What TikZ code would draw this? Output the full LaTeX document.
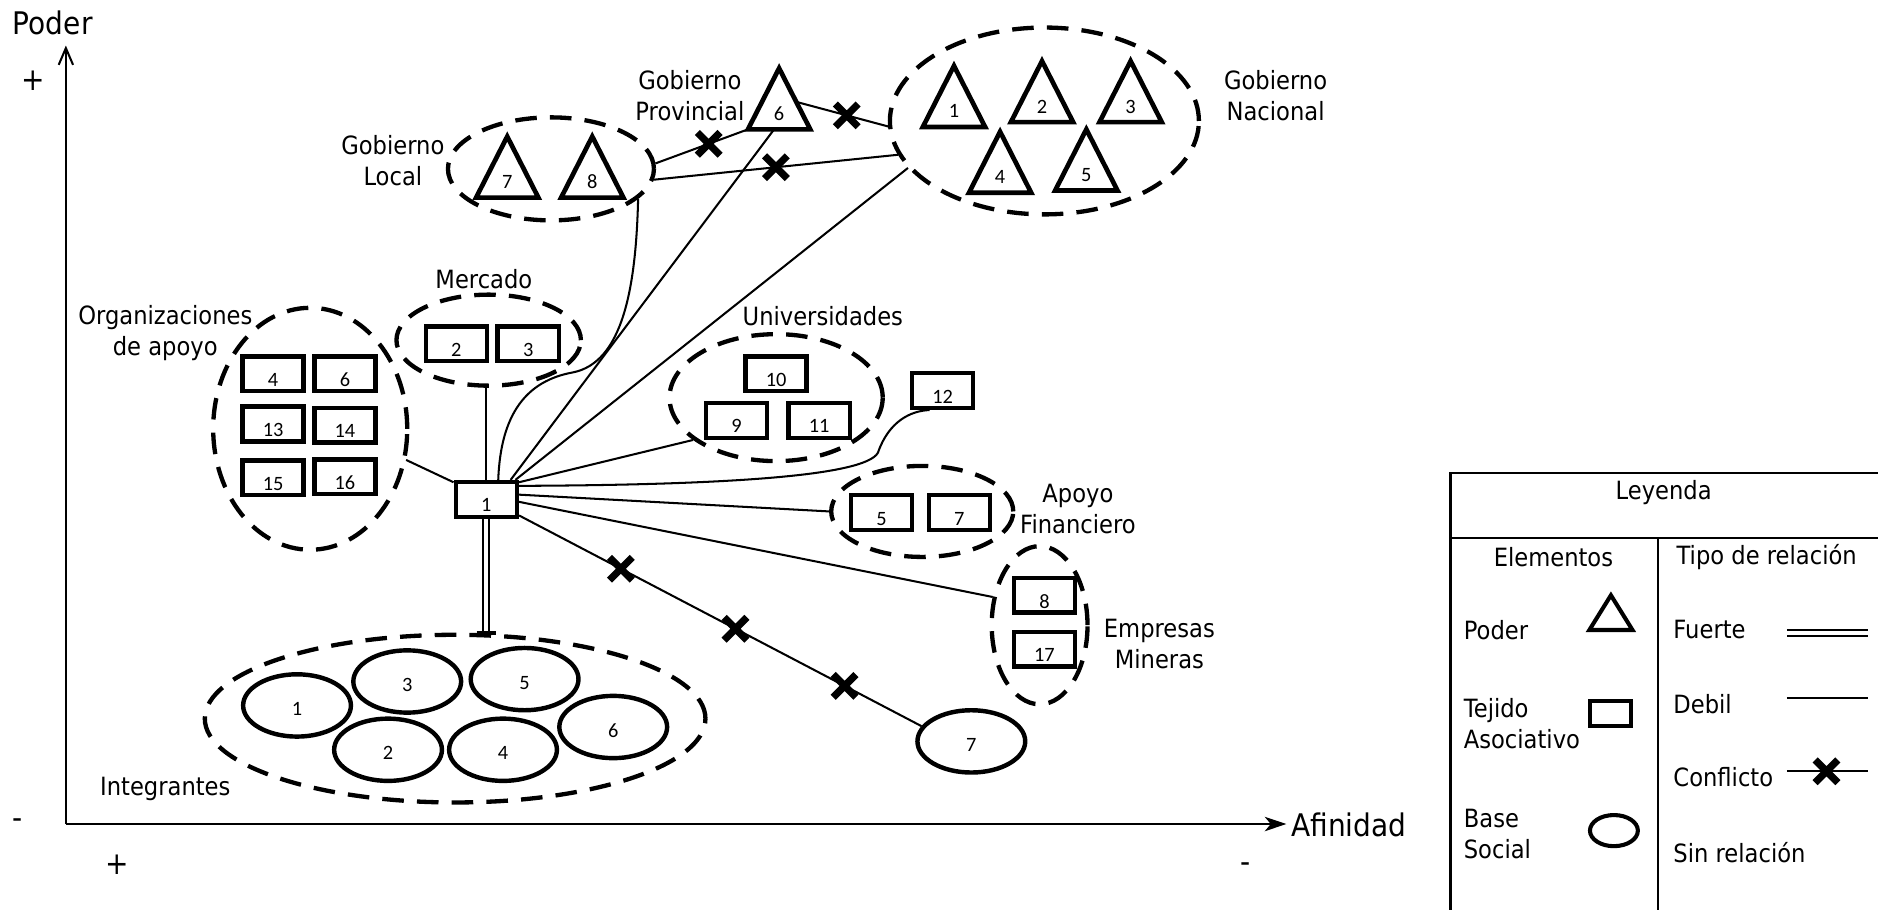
\documentclass[tikz,border=0pt]{standalone}
\usepackage{fontspec}
\setmainfont{DejaVu Sans}[FakeStretch=0.9]
\newfontfamily\numfont{Carlito}
\usetikzlibrary{calc,shapes.geometric,shapes.misc,arrows.meta}

\tikzset{
  lbl/.style={font=\fontsize{21}{26}\selectfont, align=center, inner sep=0pt},
  axlbl/.style={font=\fontsize{26}{30}\selectfont, inner sep=0pt},
  numtxt/.style={font=\numfont\fontsize{17}{20}\selectfont, inner sep=0pt},
  tbox/.style={draw, line width=3.7pt, minimum width=51pt, minimum height=29pt, inner sep=0pt},
  basesh/.style={draw, ellipse, line width=3.7pt, minimum width=90pt, minimum height=52pt, inner sep=0pt},
  grp/.style={draw, ellipse, line width=3.6pt, dash pattern=on 18pt off 11pt, inner sep=0pt},
  tri/.style={draw, line width=3.9pt},
  weak/.style={line width=1.7pt},
  strong/.style={double, double distance=3.5pt, line width=1.5pt},
  tbar/.style={line width=3.5pt},
  axis/.style={line width=1.7pt},
  legline/.style={line width=1.8pt},
  xmark/.style={draw, cross out, line width=6pt, minimum size=13pt, inner sep=0pt}
}

\newcommand{\powtri}[4]{%
  \coordinate (#1) at (#2,#3);
  \coordinate (#1A) at ($(#1)+(0,-51)$);
  \coordinate (#1L) at ($(#1)+(-26,0)$);
  \coordinate (#1R) at ($(#1)+(26,0)$);
  \draw[tri] (#1A) -- (#1L) -- (#1R) -- cycle;
  \node[numtxt] (#1n) at ($(#1)+(0,-13)$) {#4};}
\newcommand{\tejido}[4]{%
  \node[tbox] (#1) at (#2,#3) {};
  \node[numtxt] (#1n) at ($(#1.center)+(0,5)$) {#4};}
\newcommand{\basesoc}[4]{%
  \node[basesh] (#1) at (#2,#3) {};
  \node[numtxt] (#1n) at ($(#1.center)+(0,3)$) {#4};}

\begin{document}
\begin{tikzpicture}[x=1pt,y=-1pt]
\useasboundingbox (0,0) rectangle (1568,759);

% axes
\coordinate (O) at (55,688);
\coordinate (Ytop) at (55,38);
\coordinate (Xend) at (1074,688);
\draw[axis, -{Straight Barb[length=14pt,width=12pt]}] (O) -- (Ytop);
\draw[axis, -{Stealth[length=18pt,width=12pt,inset=5pt]}] (O) -- (Xend);
\node[axlbl] (poder) at (44,19) {Poder};
\node[axlbl] (pplus) at (28,67) {+};
\node[axlbl] (pminus) at (15,688) {-};
\node[axlbl] (aplus) at (98,722) {+};
\node[axlbl] (aminus) at (1040,724) {-};
\node[axlbl, anchor=west] (afin) at (1078,689) {Afinidad};

% groups
\node[grp, minimum width=172pt, minimum height=86pt] (gLoc) at (460,141) {};
\node[grp, minimum width=258pt, minimum height=156pt] (gNac) at (872,101) {};
\node[grp, minimum width=162pt, minimum height=202pt] (gOrg) at (259,358) {};
\node[grp, minimum width=154pt, minimum height=76pt] (gMer) at (408,284) {};
\node[grp, minimum width=178pt, minimum height=106pt] (gUni) at (648,332) {};
\node[grp, minimum width=152pt, minimum height=76pt] (gApo) at (770,427) {};
\node[grp, minimum width=80pt, minimum height=132pt] (gEmp) at (868,522) {};
\node[grp, minimum width=418pt, minimum height=140pt] (gInt) at (380,600) {};

% power triangles
\powtri{t7}{423.5}{165}{7}
\powtri{t8}{494.5}{165}{8}
\powtri{t6}{650.5}{108}{6}
\powtri{n1}{796.5}{106}{1}
\powtri{n2}{870}{102}{2}
\powtri{n3}{944}{102}{3}
\powtri{n4}{835}{161}{4}
\powtri{n5}{907}{159}{5}

% tejido asociativo
\tejido{b1}{406}{417}{1}
\tejido{o4}{228}{312}{4}
\tejido{o6}{288}{312}{6}
\tejido{o13}{228}{354}{13}
\tejido{o14}{288}{355}{14}
\tejido{o15}{228}{399}{15}
\tejido{o16}{288}{398}{16}
\tejido{m2}{381}{287}{2}
\tejido{m3}{441}{287}{3}
\tejido{u10}{648}{312}{10}
\tejido{u9}{615}{351}{9}
\tejido{u11}{684}{351}{11}
\tejido{b12}{787}{326}{12}
\tejido{f5}{736}{428}{5}
\tejido{f7}{801}{428}{7}
\tejido{e8}{872}{497}{8}
\tejido{e17}{872}{542}{17}

% base social
\basesoc{s1}{248}{589}{1}
\basesoc{s3}{340}{569}{3}
\basesoc{s5}{438}{567}{5}
\basesoc{s2}{324}{626}{2}
\basesoc{s4}{420}{626}{4}
\basesoc{s6}{512}{607}{6}
\basesoc{s7}{811}{619}{7}

% group labels
\node[lbl] (lLoc) at (328,134) {Gobierno\\Local};
\node[lbl] (lProv) at (576,80) {Gobierno\\Provincial};
\node[lbl] (lNac) at (1065,80) {Gobierno\\Nacional};
\node[lbl] (lMer) at (404,233) {Mercado};
\node[lbl] (lOrg) at (138,278) {Organizaciones\\de apoyo};
\node[lbl] (lUni) at (687,264) {Universidades};
\node[lbl] (lApo) at (900,425) {Apoyo\\Financiero};
\node[lbl] (lEmp) at (968,538) {Empresas\\Mineras};
\node[lbl] (lInt) at (138,659) {Integrantes};

% connectors among governments
\draw[weak] (gLoc.3) -- node[xmark,pos=0.575]{} (t6L);
\draw[weak] (gLoc.-6) -- node[xmark,pos=0.5]{} (gNac.193);
\draw[weak] ($(t6A)!0.55!(t6R)$) -- node[xmark,pos=0.55]{} (gNac.182);

% connectors from 1
\draw[weak] ($(b1.north)+(10,0)$) .. controls (418,345) and (440,318) .. (478,311)
            .. controls (520,303) and (531,240) .. (gLoc.-19);
\draw[weak] ($(b1.north east)+(-7,0)$) -- ($(t6L)!0.42!(t6R)$);
\draw[weak] ($(b1.north east)+(-3,0)$) -- (gNac.199);
\draw[weak] (b1.north) -- (b1.north |- gMer.south);
\draw[weak] ($(b1.north east)+(0,2)$) -- (gUni.207);
\draw[weak] ($(b1.north east)+(0,5)$) .. controls (600,405) and (722,398) .. (733,378)
            .. controls (742,352) and (760,343) .. ($(b12.south west)!0.3!(b12.south east)$);
\draw[weak] ($(b1.east)+(0,-4)$) -- (gApo.west);
\draw[weak] ($(b1.east)+(0,2)$) -- (gEmp.149);
\draw[weak] ($(b1.south east)+(0,-3)$) -- node[xmark,pos=0.253]{} node[xmark,pos=0.538]{}
            node[xmark,pos=0.809]{} (s7.163);
\draw[weak] ($(b1.north west)+(0,2)$) -- (gOrg.-18);
\coordinate (intT) at (b1.south |- gInt.north);
\draw[strong] (b1.south) -- (intT);
\draw[tbar] ($(intT)+(-8,0)$) -- ($(intT)+(8,0)$);

% legend
\draw[legline] (1211,762) -- (1211,395) -- (1572,395);
\draw[legline] (1211,449) -- (1572,449);
\draw[legline] (1384,449) -- (1384,762);
\node[lbl] (legT) at (1389,411) {Leyenda};
\node[lbl] (legE) at (1297,465) {Elementos};
\node[lbl] (legR) at (1475,465) {Tipo de relación};
\node[lbl, anchor=west] (lp) at (1222,526) {Poder};
\node[lbl, anchor=west, align=left] (lt) at (1222,604) {Tejido\\Asociativo};
\node[lbl, anchor=west, align=left] (lb) at (1222,696) {Base\\Social};
\node[lbl, anchor=west] (lf) at (1397,526) {Fuerte};
\node[lbl, anchor=west] (ld) at (1397,588) {Debil};
\node[lbl, anchor=west] (lc) at (1397,649) {Conflicto};
\node[lbl, anchor=west] (ls) at (1397,712) {Sin relación};
\coordinate (lgT) at (1345,526);
\draw[tri, line width=3.4pt] ($(lgT)+(0,-29)$) -- ($(lgT)+(-18,0)$) -- ($(lgT)+(18,0)$) -- cycle;
\node[tbox, line width=3.4pt, minimum width=34pt, minimum height=21pt] (lgR) at (1344.5,596) {};
\node[basesh, line width=3.4pt, minimum width=40pt, minimum height=26pt] (lgE) at (1347.5,693.5) {};
\coordinate (lf1) at (1492,528.5);
\coordinate (lf2) at (1560,528.5);
\draw[strong] (lf1) -- (lf2);
\coordinate (ld1) at (1492,583);
\coordinate (ld2) at (1560,583);
\draw[weak] (ld1) -- (ld2);
\coordinate (lc1) at (1492,644);
\coordinate (lc2) at (1560,644);
\draw[weak] (lc1) -- node[xmark,pos=0.485]{} (lc2);
\end{tikzpicture}
\end{document}
